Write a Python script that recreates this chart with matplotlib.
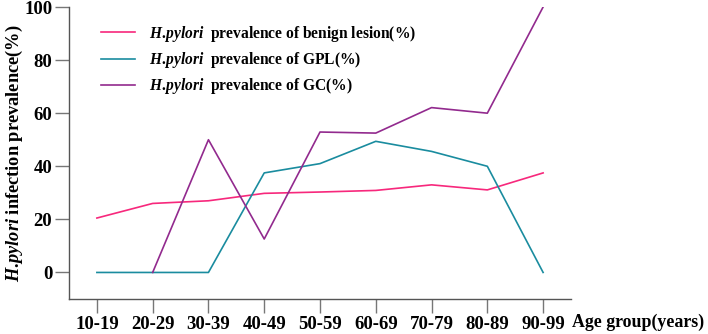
import matplotlib
matplotlib.use('Agg')
import matplotlib.pyplot as plt

plt.rcParams['font.family'] = ['Liberation Serif', 'DejaVu Serif']
plt.rcParams['mathtext.fontset'] = 'custom'
plt.rcParams['mathtext.it'] = 'Liberation Serif:italic:bold'
plt.rcParams['mathtext.rm'] = 'Liberation Serif:bold'

# data
age_groups = ['10-19', '20-29', '30-39', '40-49', '50-59', '60-69', '70-79', '80-89', '90-99']
benign = [20.5, 26.0, 27.0, 29.8, 30.3, 30.9, 33.0, 31.1, 37.5]
gpl = [0, 0, 0, 37.5, 41.0, 49.4, 45.6, 40.0, 0]
gc = [None, 0, 50.0, 12.6, 52.9, 52.5, 62.1, 60.0, 100.0]

hp = r'$\mathit{H.\!pylori}$'
labels = [hp + '  prevalence of benign lesion(%)',
          hp + '  prevalence of GPL(%)',
          hp + '  prevalence of GC(%)']
colors = ['#f7287c', '#1a8c9f', '#922a8e']

fig = plt.figure(figsize=(7.08, 3.34), dpi=100)
ax = fig.add_axes([69 / 708, 35 / 334, 502 / 708, 292 / 334])

x = list(range(len(age_groups)))
ax.plot(x, benign, color=colors[0], lw=1.2, label=labels[0])
ax.plot(x, gpl, color=colors[1], lw=1.2, label=labels[1])
gc_x = [i for i, v in zip(x, gc) if v is not None]
gc_y = [v for v in gc if v is not None]
ax.plot(gc_x, gc_y, color=colors[2], lw=1.2, label=labels[2])

ax.set_xlim(-0.5, 8.5)
ax.set_ylim(-10, 100)
ax.set_yticks([0, 20, 40, 60, 80, 100])
ax.set_xticks(x)
ax.set_xticklabels(age_groups)
for s in ['top', 'right']:
    ax.spines[s].set_visible(False)
for s in ['left', 'bottom']:
    ax.spines[s].set_color('#555555')
    ax.spines[s].set_linewidth(1.0)
ax.tick_params(direction='out', length=10, width=1.0, color='#777777',
               labelsize=13.5, pad=2)
for t in ax.get_xticklabels() + ax.get_yticklabels():
    t.set_fontweight('bold')

ax.set_ylabel(hp + ' infection prevalence(%)', fontsize=13.2, fontweight='bold')
ax.yaxis.set_label_coords(-0.088, 0.5)
fig.text(572 / 708, 7 / 334, 'Age group(years)', fontsize=12.9, fontweight='bold',
         ha='left', va='baseline')

leg = ax.legend(loc='upper left', bbox_to_anchor=(0.035, 0.99), frameon=False,
                prop={'weight': 'bold', 'size': 11.2}, handlelength=2.2,
                handletextpad=0.9, labelspacing=0.4)

fig.savefig('out.png', dpi=100)
